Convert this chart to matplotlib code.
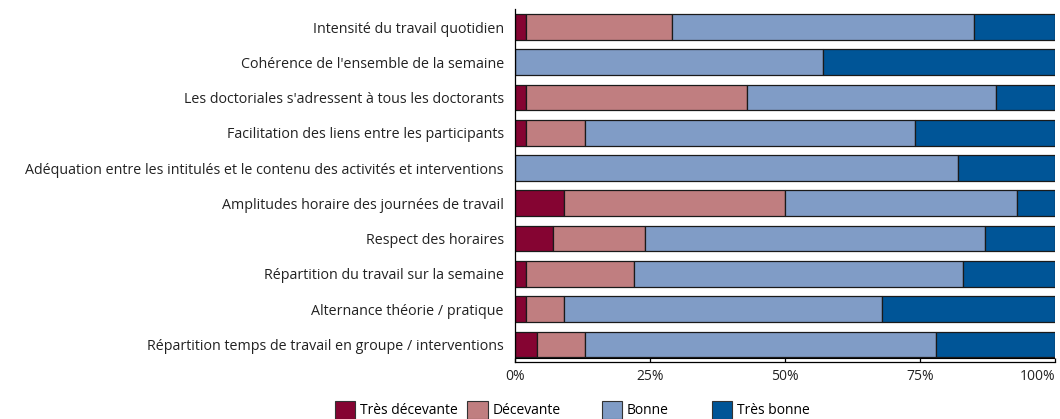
import numpy as np
import matplotlib
matplotlib.use('Agg')
import matplotlib.pyplot as plt
from matplotlib.patches import Patch

# ---------- données ----------
categories = [
    "Intensité du travail quotidien",
    "Cohérence de l'ensemble de la semaine",
    "Les doctoriales s'adressent à tous les doctorants",
    "Facilitation des liens entre les participants",
    "Adéquation entre les intitulés et le contenu des activités et interventions",
    "Amplitudes horaire des journées de travail",
    "Respect des horaires",
    "Répartition du travail sur la semaine",
    "Alternance théorie / pratique",
    "Répartition temps de travail en groupe / interventions",
]
tres_decevante = [2, 0, 2, 2, 0, 9, 7, 2, 2, 4]
decevante = [27, 0, 41, 11, 0, 41, 17, 20, 7, 9]
bonne = [56, 57, 46, 61, 82, 43, 63, 61, 59, 65]
tres_bonne = [15, 43, 11, 26, 18, 7, 13, 17, 32, 22]

series_names = ['Très décevante', 'Décevante', 'Bonne', 'Très bonne']
colors = ['#850432', '#C07E80', '#809CC6', '#005597']
x_ticks = [0, 25, 50, 75, 100]
x_labels = ['0%', '25%', '50%', '75%', '100%']

plt.rcParams['font.family'] = ['Open Sans', 'DejaVu Sans']


def main():
    fig = plt.figure(figsize=(10.6, 4.19), dpi=100)
    ax = fig.add_axes([0.4858, 0.136, 0.5095, 0.8416])

    y = np.arange(len(categories))
    series = [tres_decevante, decevante, bonne, tres_bonne]
    left = np.zeros(len(categories))
    for vals, col in zip(series, colors):
        vals = np.array(vals, dtype=float)
        ax.barh(y, vals, left=left, height=0.73, color=col,
                edgecolor='#1a1a1a', linewidth=0.9)
        left += vals

    ax.set_xlim(0, 100)
    ax.set_ylim(len(categories) - 0.5, -0.5)
    ax.set_yticks(y)
    ax.set_yticklabels(categories, fontsize=10.3, color='#222222')
    ax.tick_params(axis='y', length=0, pad=8)
    ax.set_xticks(x_ticks)
    ax.set_xticklabels(x_labels, fontsize=10, color='#222222')
    ax.get_xticklabels()[-1].set_horizontalalignment('right')
    ax.tick_params(axis='x', direction='in', length=3, pad=5, width=0.9)

    for s in ['top', 'right']:
        ax.spines[s].set_visible(False)
    for s in ['left', 'bottom']:
        ax.spines[s].set_linewidth(0.9)
    ax.axhline(len(categories) - 0.5 - 0.1, color='black', linewidth=0.8)

    # légende
    leg_x = [0.316, 0.441, 0.568, 0.672]
    for name, col, lx in zip(series_names, colors, leg_x):
        h = [Patch(facecolor=col, edgecolor='#333333', linewidth=0.8)]
        fig.legend(h, [name], loc='center left', bbox_to_anchor=(lx, 0.022),
                   frameon=False, fontsize=10, handlelength=1.45,
                   handleheight=1.6, handletextpad=0.35, borderpad=0,
                   borderaxespad=0)

    fig.savefig('out.png', dpi=100)
    plt.close(fig)


if __name__ == '__main__':
    main()
